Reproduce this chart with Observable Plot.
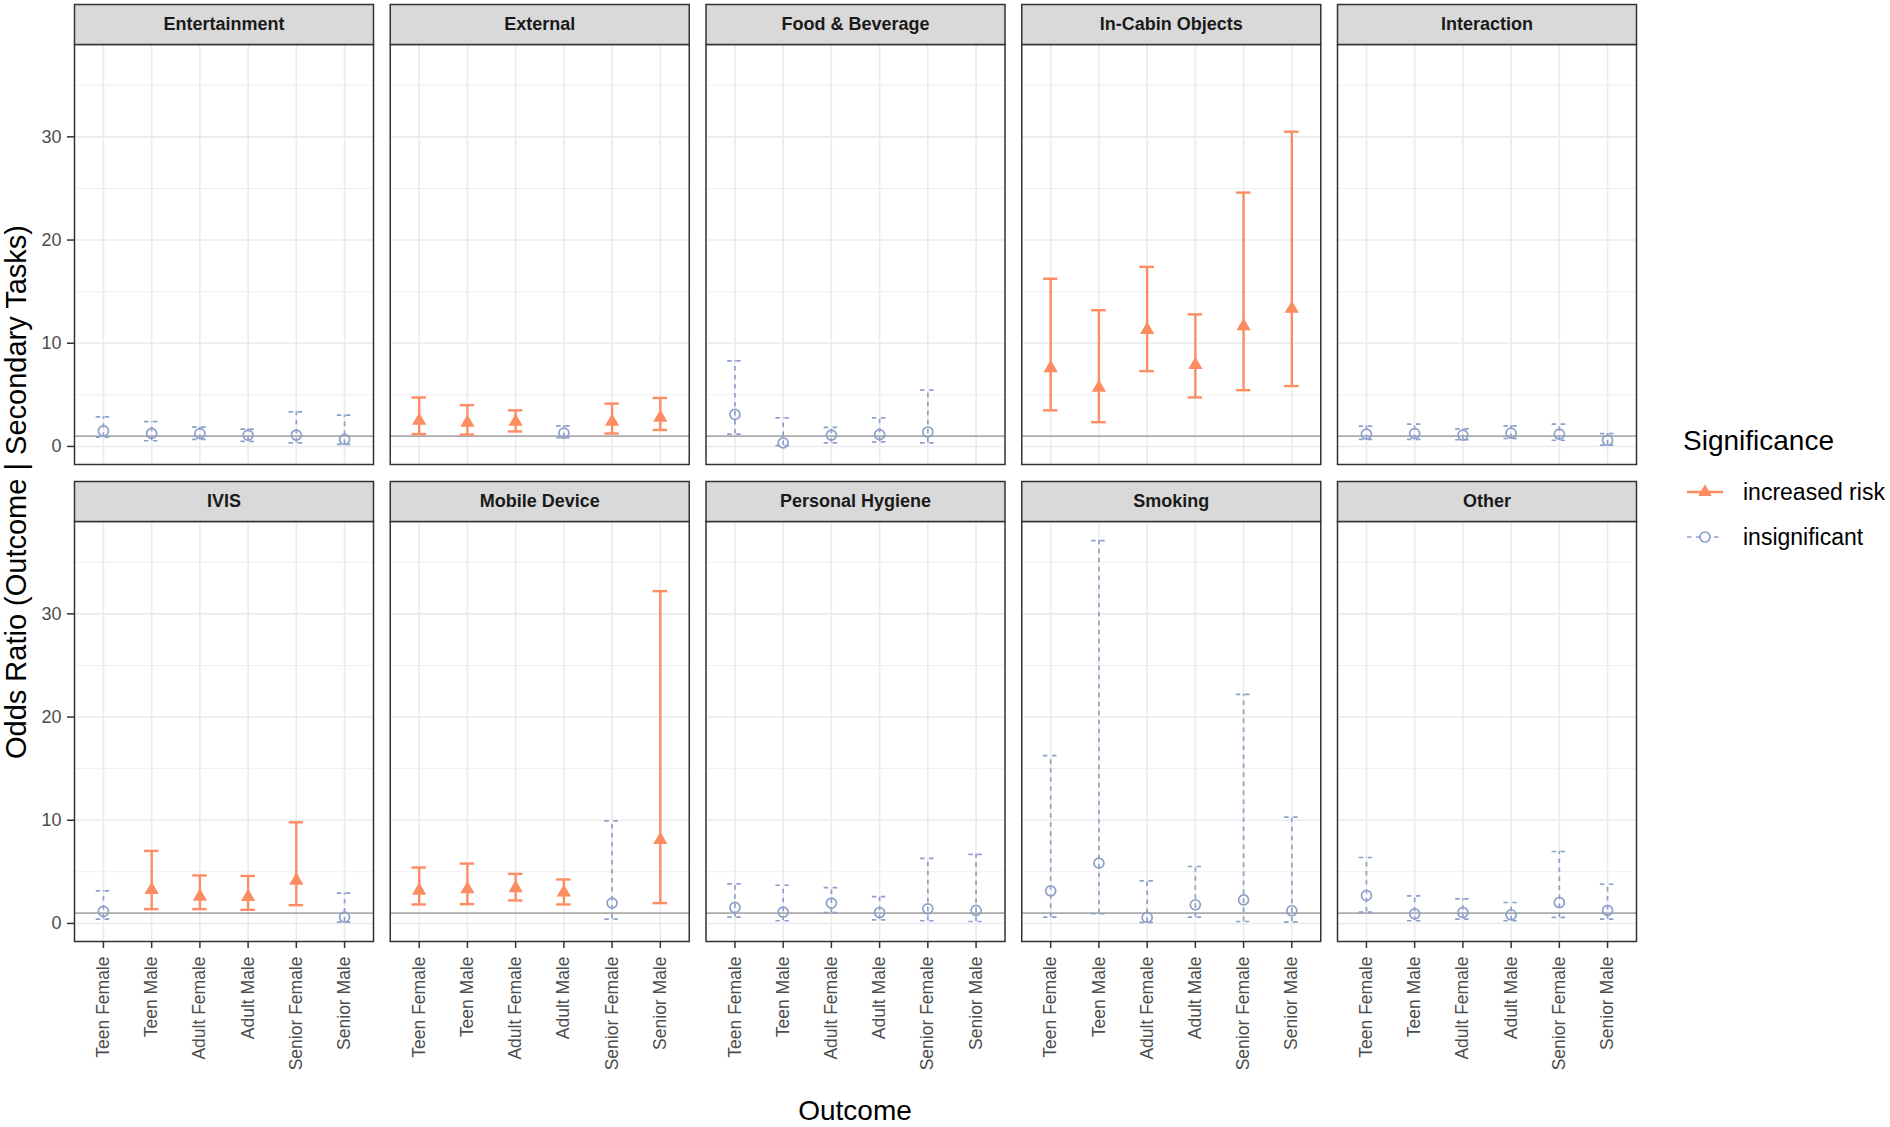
<!DOCTYPE html>
<html>
<head>
<meta charset="utf-8">
<script src="https://cdn.jsdelivr.net/npm/d3@7"></script>
<script src="https://cdn.jsdelivr.net/npm/@observablehq/plot@0.6"></script>
<style>
  html, body { margin: 0; padding: 0; background: #fff; }
  body { font-family: "Liberation Sans", Arial, Helvetica, sans-serif; }
  #wrap { position: relative; width: 1890px; height: 1127px; overflow: hidden; }
  #chart { position: absolute; left: 0; top: 0; }
  .title-y { position: absolute; left: 16px; top: 492px; transform: translate(-50%, -50%) rotate(-90deg);
             white-space: nowrap; font-size: 29px; line-height: 1; color: #000; }
  .title-x { position: absolute; left: 855px; top: 1111px; transform: translate(-50%, -50%);
             white-space: nowrap; font-size: 28px; line-height: 1; color: #000; }
  .leg-title { position: absolute; left: 1683px; top: 441px; transform: translateY(-50%);
               font-size: 28px; line-height: 1; color: #000; white-space: nowrap; }
  #legend { position: absolute; left: 1680px; top: 465px; }
</style>
</head>
<body>
<div id="wrap">
  <div id="chart"></div>
  <div class="title-y">Odds Ratio (Outcome | Secondary Tasks)</div>
  <div class="title-x">Outcome</div>
  <div class="leg-title">Significance</div>
  <div id="legend"></div>
</div>
<script>
// ---------------- data ----------------
const tasks = ["Entertainment", "External", "Food & Beverage", "In-Cabin Objects", "Interaction",
               "IVIS", "Mobile Device", "Personal Hygiene", "Smoking", "Other"];
const outcomes = ["Teen Female", "Teen Male", "Adult Female", "Adult Male", "Senior Female", "Senior Male"];
const significanceLevels = ["increased risk", "insignificant"];

// odds ratio point estimates, one row per task, one column per outcome
const oddsRatio = [
  [1.5, 1.26, 1.25, 1.1, 1.1, 0.68],
  [2.5, 2.3, 2.4, 1.3, 2.4, 2.8],
  [3.1, 0.35, 1.1, 1.15, 1.4, null],
  [7.6, 5.7, 11.3, 7.9, 11.65, 13.35],
  [1.2, 1.25, 1.1, 1.3, 1.2, 0.6],
  [1.16, 3.26, 2.61, 2.58, 4.16, 0.61],
  [3.19, 3.32, 3.42, 3.0, 1.97, 8.1],
  [1.55, 1.1, 1.97, 1.06, 1.42, 1.26],
  [3.16, 5.84, 0.58, 1.81, 2.29, 1.23],
  [2.71, 0.94, 1.06, 0.84, 2.03, 1.26]
];
const lowerCI = [
  [0.9, 0.55, 0.68, 0.5, 0.35, 0.2],
  [1.2, 1.15, 1.45, 0.85, 1.25, 1.6],
  [1.2, 0.08, 0.35, 0.45, 0.35, null],
  [3.5, 2.35, 7.3, 4.75, 5.45, 5.85],
  [0.68, 0.68, 0.65, 0.77, 0.6, 0.13],
  [0.42, 1.39, 1.39, 1.32, 1.77, 0.13],
  [1.84, 1.87, 2.23, 1.84, 0.42, 1.97],
  [0.61, 0.26, 1.06, 0.35, 0.26, 0.19],
  [0.61, 0.94, 0.1, 0.61, 0.19, 0.16],
  [1.1, 0.26, 0.42, 0.26, 0.58, 0.42]
];
const upperCI = [
  [2.87, 2.4, 1.87, 1.68, 3.35, 3.03],
  [4.74, 4.0, 3.5, 2.0, 4.15, 4.7],
  [8.3, 2.77, 1.85, 2.77, 5.45, null],
  [16.25, 13.2, 17.4, 12.8, 24.6, 30.5],
  [1.97, 2.16, 1.7, 2.0, 2.16, 1.25],
  [3.16, 7.03, 4.65, 4.6, 9.8, 2.94],
  [5.42, 5.8, 4.8, 4.26, 9.94, 32.2],
  [3.84, 3.7, 3.48, 2.6, 6.3, 6.7],
  [16.26, 37.1, 4.13, 5.52, 22.2, 10.3],
  [6.39, 2.68, 2.39, 2.03, 6.97, 3.8]
];
// 1 = increased risk, 0 = insignificant
const increasedRisk = [
  [0, 0, 0, 0, 0, 0],
  [1, 1, 1, 0, 1, 1],
  [0, 0, 0, 0, 0, 0],
  [1, 1, 1, 1, 1, 1],
  [0, 0, 0, 0, 0, 0],
  [0, 1, 1, 1, 1, 0],
  [1, 1, 1, 1, 0, 1],
  [0, 0, 0, 0, 0, 0],
  [0, 0, 0, 0, 0, 0],
  [0, 0, 0, 0, 0, 0]
];
const yMajorTicks = [0, 10, 20, 30];
const yMinorTicks = [5, 15, 25, 35];
const referenceOR = [1];

// ---------------- build table ----------------
const nCols = 5;
const rows = [];
tasks.forEach((task, i) => {
  outcomes.forEach((outcome, j) => {
    const or = oddsRatio[i][j];
    if (or == null) return;
    rows.push({
      task, col: i % nCols, row: Math.floor(i / nCols), outcome,
      or, lo: lowerCI[i][j], hi: upperCI[i][j],
      sig: significanceLevels[increasedRisk[i][j] ? 0 : 1]
    });
  });
});
const strips = tasks.map((task, i) => ({task, col: i % nCols, row: Math.floor(i / nCols)}));

// ---------------- styling / layout ----------------
const ORANGE = "#FC8D62", BLUE = "#8DA0CB";
const W = 1890, H = 1127;
const panelLeft = 74, panelRight = 1636, panelTop = 44, panelBottom = 941;
const panelW = 299, panelH = 420, stripH = 40;
const colGap = ((panelRight - panelLeft) - nCols * panelW) / (nCols - 1);
const rowGap = (panelBottom - panelTop) - 2 * panelH;
const dash = "4.5,4.5";
const isSig = d => d.sig === significanceLevels[0];
const isIns = d => d.sig === significanceLevels[1];
const fac = {fx: "col", fy: "row"};

const chart = Plot.plot({
  width: W, height: H,
  marginLeft: panelLeft, marginRight: W - panelRight,
  marginTop: panelTop, marginBottom: H - panelBottom,
  style: {fontFamily: '"Liberation Sans", Arial, Helvetica, sans-serif', background: "#fff", overflow: "visible"},
  fx: {domain: d3.range(nCols), axis: null, paddingInner: colGap / (panelW + colGap), paddingOuter: 0, round: false},
  fy: {domain: [0, 1], axis: null, paddingInner: rowGap / (panelH + rowGap), paddingOuter: 0, round: false},
  x: {type: "band", domain: outcomes, paddingInner: 0.7, paddingOuter: 0.45, round: false},
  y: {domain: [-1.75, 38.95]},
  marks: [
    Plot.gridY(yMinorTicks, {stroke: "#EFEFEF", strokeOpacity: 1, strokeWidth: 1}),
    Plot.gridY(yMajorTicks, {stroke: "#EBEBEB", strokeOpacity: 1, strokeWidth: 1.6}),
    Plot.gridX(outcomes, {stroke: "#EBEBEB", strokeOpacity: 1, strokeWidth: 1.6}),
    Plot.ruleY(referenceOR, {stroke: "#ABABAB", strokeWidth: 1.8}),
    // significant error bars
    Plot.ruleX(rows, {...fac, filter: isSig, x: "outcome", y1: "lo", y2: "hi", stroke: ORANGE, strokeWidth: 2.4}),
    Plot.tickY(rows, {...fac, filter: isSig, x: "outcome", y: "hi", stroke: ORANGE, strokeWidth: 2.4}),
    Plot.tickY(rows, {...fac, filter: isSig, x: "outcome", y: "lo", stroke: ORANGE, strokeWidth: 2.4}),
    // insignificant error bars
    Plot.ruleX(rows, {...fac, filter: isIns, x: "outcome", y1: "lo", y2: "hi", stroke: BLUE, strokeWidth: 1.7, strokeDasharray: dash}),
    Plot.tickY(rows, {...fac, filter: isIns, x: "outcome", y: "hi", stroke: BLUE, strokeWidth: 1.7, strokeDasharray: dash}),
    Plot.tickY(rows, {...fac, filter: isIns, x: "outcome", y: "lo", stroke: BLUE, strokeWidth: 1.7, strokeDasharray: dash}),
    // points
    Plot.dot(rows, {...fac, filter: isSig, x: "outcome", y: "or", symbol: "triangle", r: 5.3, fill: ORANGE, stroke: "none"}),
    Plot.dot(rows, {...fac, filter: isIns, x: "outcome", y: "or", symbol: "circle", r: 5, fill: "none", stroke: BLUE, strokeWidth: 1.7}),
    // panel border
    Plot.frame({stroke: "#333333", strokeWidth: 1.5}),
    // facet strips
    Plot.frame({fill: "#D9D9D9", stroke: "#333333", strokeWidth: 1.5, insetTop: -stripH, insetBottom: panelH}),
    Plot.text(strips, {...fac, text: "task", frameAnchor: "top", lineAnchor: "middle", dy: -stripH / 2, fontSize: 18, fontWeight: "bold", fill: "#1A1A1A"}),
    // axes
    Plot.axisY(yMajorTicks, {tickSize: 7, tickPadding: 6, fontSize: 18, stroke: "#333333", strokeWidth: 1.5, fill: "#4D4D4D", label: null}),
    Plot.axisX({tickRotate: -90, tickSize: 7, tickPadding: 8, fontSize: 17.5, stroke: "#333333", strokeWidth: 1.5, fill: "#4D4D4D", label: null})
  ]
});
document.getElementById("chart").appendChild(chart);

// ---------------- legend ----------------
const leg = d3.select("#legend").append("svg").attr("width", 210).attr("height", 100)
  .style("font-family", '"Liberation Sans", Arial, Helvetica, sans-serif');
const legItems = [
  {label: significanceLevels[0], color: ORANGE, dashed: false, sym: d3.symbolTriangle},
  {label: significanceLevels[1], color: BLUE, dashed: true, sym: d3.symbolCircle}
];
legItems.forEach((it, k) => {
  const cy = 27 + k * 45;
  const g = leg.append("g");
  g.append("line").attr("x1", 7).attr("x2", 43).attr("y1", cy).attr("y2", cy)
    .attr("stroke", it.color).attr("stroke-width", it.dashed ? 1.7 : 2.4)
    .attr("stroke-dasharray", it.dashed ? dash : null);
  g.append("path").attr("d", d3.symbol(it.sym, Math.PI * 25)())
    .attr("transform", `translate(25,${cy})`)
    .attr("fill", it.dashed ? "#fff" : it.color)
    .attr("stroke", it.dashed ? it.color : "none")
    .attr("stroke-width", 1.7);
  g.append("text").attr("x", 63).attr("y", cy).attr("dy", "0.35em")
    .attr("font-size", 23).attr("fill", "#000").text(it.label);
});
</script>
</body>
</html>
